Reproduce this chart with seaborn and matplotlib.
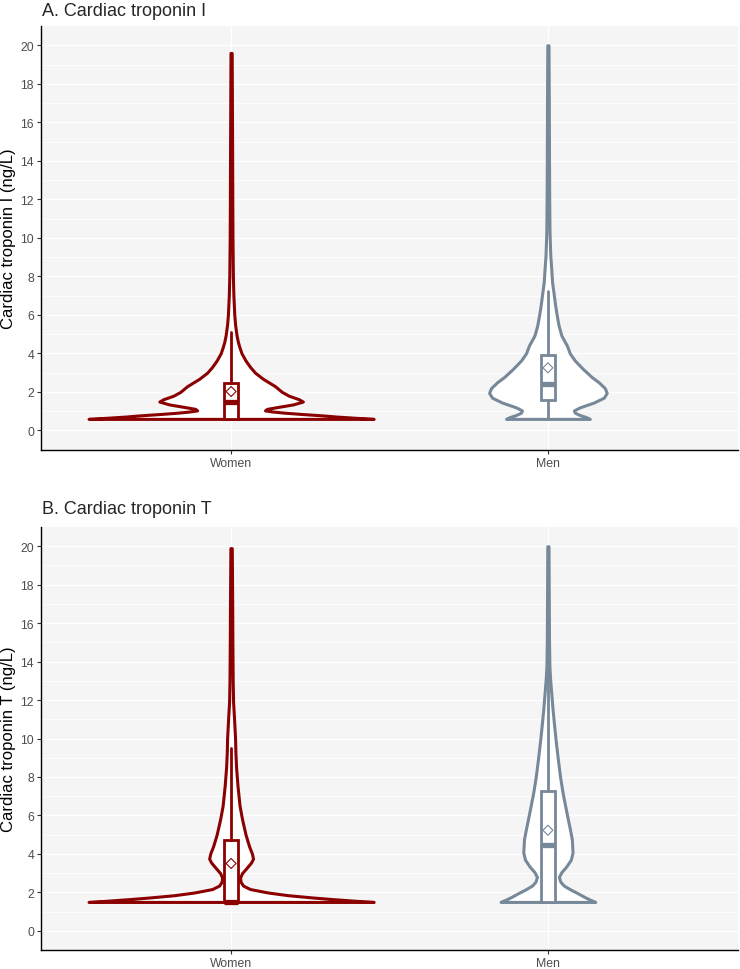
import numpy as np
import pandas as pd
import matplotlib
matplotlib.use("Agg")
import matplotlib.pyplot as plt
import seaborn as sns

groups = ["Women", "Men"]
colors = ["#8B0000", "#778899"]

# ---- Panel A: cardiac troponin I -- violin density profiles (value, relative density)
tni_women_val = [0.60, 0.66, 0.72, 0.78, 0.85, 0.92, 0.98, 1.04, 1.12, 1.22, 1.35, 1.50,
                 1.62, 1.80, 2.00, 2.30, 2.68, 3.00, 3.30, 3.63, 4.00, 4.30, 4.60, 4.93,
                 5.50, 6.00, 7.00, 8.00, 10.0, 12.0, 15.0, 19.6]
tni_women_den = [143, 124, 106, 92, 72, 54, 42, 34, 36, 47, 62, 72,
                 68, 58, 51, 44, 32, 24, 19, 14.5, 10.5, 8.5, 6.8, 5.5,
                 4.0, 3.2, 2.3, 1.8, 1.4, 1.2, 1.0, 0.6]
tni_men_val = [0.60, 0.70, 0.80, 0.92, 1.04, 1.20, 1.45, 1.70, 1.95, 2.20, 2.50, 2.77,
               3.20, 3.63, 4.00, 4.41, 4.93, 5.45, 6.00, 6.48, 7.20, 7.70, 8.50, 9.08,
               10.3, 12.0, 14.0, 17.0, 20.0]
tni_men_den = [42, 38, 32, 27, 26, 32, 46, 56, 59, 57, 51, 44,
               35, 27, 22, 19, 13.5, 10.7, 8.8, 7.3, 5.5, 4.2, 3.2, 2.4,
               1.6, 1.3, 1.1, 0.9, 0.6]
tni_q1 = [0.6, 1.6]
tni_median = [1.5, 2.4]
tni_q3 = [2.46, 3.93]
tni_whisk_lo = [0.6, 0.6]
tni_whisk_hi = [5.1, 7.26]
tni_mean = [2.02, 3.25]

# ---- Panel B: cardiac troponin T
tnt_women_val = [1.50, 1.56, 1.65, 1.73, 1.85, 1.99, 2.17, 2.35, 2.55, 2.77, 3.00, 3.30,
                 3.55, 3.75, 4.00, 4.40, 5.00, 5.80, 6.50, 7.50, 8.50, 9.30, 10.0, 11.0,
                 11.9, 13.0, 15.0, 17.0, 19.9]
tnt_women_den = [143, 125, 101, 82, 57, 37, 19, 12, 9.5, 9, 11, 16,
                 20, 22, 21, 18, 14.5, 11, 8.5, 6.5, 5, 4.3, 4, 3,
                 2, 1.6, 1.3, 1.1, 0.7]
tnt_men_val = [1.50, 1.60, 1.75, 1.95, 2.15, 2.35, 2.55, 2.80, 3.05, 3.35, 3.70, 4.07,
               4.76, 5.30, 5.80, 6.50, 7.19, 8.00, 8.91, 9.80, 10.64, 11.5, 12.38, 13.1,
               13.76, 15.0, 17.0, 20.0]
tnt_men_den = [47.5, 43, 37, 30, 22.5, 16, 12.5, 11, 13.5, 18.5, 23, 24.7,
               24, 22, 20, 17.3, 14.7, 12.2, 10, 8, 6.3, 4.7, 3.3, 2.2,
               1.5, 1.1, 0.9, 0.6]
tnt_q1 = [1.5, 1.5]
tnt_median = [1.5, 4.45]
tnt_q3 = [4.73, 7.27]
tnt_whisk_lo = [1.5, 1.5]
tnt_whisk_hi = [9.52, 15.8]
tnt_mean = [3.5, 5.23]

sns.set_theme(style="white")
plt.rcParams["font.family"] = ["Liberation Sans", "DejaVu Sans"]

W, H = 740, 970
fig = plt.figure(figsize=(W / 100, H / 100), dpi=100)


def add_axes(top_px, bottom_px):
    return fig.add_axes([41 / W, 1 - bottom_px / H, (738 - 41) / W, (bottom_px - top_px) / H])


def style(ax, ylabel):
    ax.set_facecolor("#F5F5F5")
    ax.set_xlim(0.4, 2.6)
    ax.set_ylim(-1, 21)
    ax.set_yticks(range(0, 21, 2))
    ax.set_yticks(range(1, 21, 2), minor=True)
    ax.set_xticks([1, 2])
    ax.set_xticklabels(groups)
    ax.grid(which="major", color="white", lw=1.0)
    ax.grid(which="minor", axis="y", color="white", lw=0.6)
    ax.set_axisbelow(True)
    for s in ["top", "right"]:
        ax.spines[s].set_visible(False)
    for s in ["left", "bottom"]:
        ax.spines[s].set_color("black")
        ax.spines[s].set_linewidth(1.0)
    ax.tick_params(which="major", length=3, width=0.8, color="#333333",
                   labelsize=8.8, labelcolor="#4D4D4D", pad=2,
                   left=True, bottom=True)
    ax.tick_params(which="minor", length=0)
    ax.set_ylabel(ylabel, fontsize=12, color="black", labelpad=3)
    ax.set_xlabel("")


def draw_panel(ax, profiles, q1, med, q3, wlo, whi, means):
    scale = 0.45 / max(max(d) for _, d in profiles)
    for i, ((vals, dens), col) in enumerate(zip(profiles, colors)):
        pos = i + 1
        hw = np.asarray(dens, dtype=float) * scale
        poly = ax.fill_betweenx(vals, pos - hw, pos + hw, facecolor="white",
                                edgecolor=col, lw=2.2, zorder=2)
        poly.set_joinstyle("round")
    for i, col in enumerate(colors):
        st = dict(med=med[i], q1=q1[i], q3=q3[i], whislo=wlo[i], whishi=whi[i], fliers=[])
        ax.bxp([st], positions=[i + 1], widths=0.043, showcaps=False, showfliers=False,
               patch_artist=True, manage_ticks=False, zorder=3,
               boxprops=dict(facecolor="white", edgecolor=col, lw=2.0),
               whiskerprops=dict(color=col, lw=2.0),
               medianprops=dict(color=col, lw=3.8, solid_capstyle="butt"))
    df = pd.DataFrame({"x": [1, 2], "mean": means, "group": groups})
    sns.scatterplot(data=df, x="x", y="mean", hue="group", palette=colors, marker="D",
                    s=26, linewidth=0.8, legend=False, ax=ax, zorder=4)
    coll = ax.collections[-1]
    coll.set_edgecolors(coll.get_facecolors())
    coll.set_facecolor("none")
    ax.set_xlabel("")


axA = add_axes(27, 450.7)
draw_panel(axA, [(tni_women_val, tni_women_den), (tni_men_val, tni_men_den)],
           tni_q1, tni_median, tni_q3, tni_whisk_lo, tni_whisk_hi, tni_mean)
style(axA, "Cardiac troponin I (ng/L)")

axB = add_axes(528, 951)
draw_panel(axB, [(tnt_women_val, tnt_women_den), (tnt_men_val, tnt_men_den)],
           tnt_q1, tnt_median, tnt_q3, tnt_whisk_lo, tnt_whisk_hi, tnt_mean)
style(axB, "Cardiac troponin T (ng/L)")

fig.text(42 / W, 1 - 11 / H, "A. Cardiac troponin I", fontsize=13, ha="left", va="center")
fig.text(42 / W, 1 - 510 / H, "B. Cardiac troponin T", fontsize=13, ha="left", va="center")

fig.savefig("out.png", dpi=100)
